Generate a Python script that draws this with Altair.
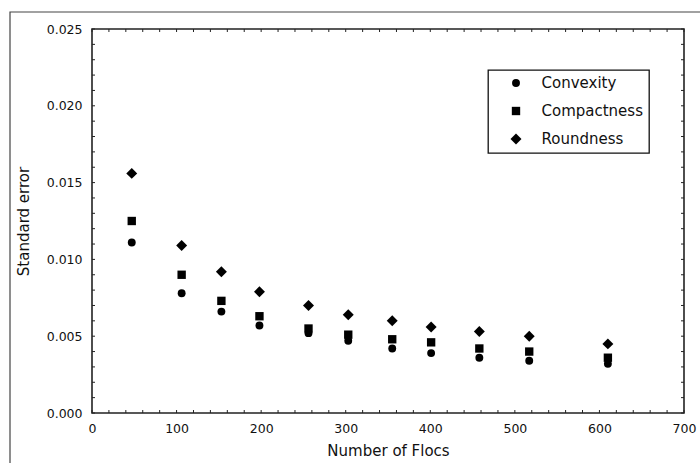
import altair as alt
import pandas as pd

# ---- data ----
flocs = [47, 106, 153, 198, 256, 303, 355, 401, 458, 517, 610]
convexity = [0.0111, 0.0078, 0.0066, 0.0057, 0.0052, 0.0047, 0.0042, 0.0039, 0.0036, 0.0034, 0.0032]
compactness = [0.0125, 0.0090, 0.0073, 0.0063, 0.0055, 0.0051, 0.0048, 0.0046, 0.0042, 0.0040, 0.0036]
roundness = [0.0156, 0.0109, 0.0092, 0.0079, 0.0070, 0.0064, 0.0060, 0.0056, 0.0053, 0.0050, 0.0045]

series_names = ["Convexity", "Compactness", "Roundness"]
series_shapes = ["circle", "square", "diamond"]
series_sizes = [62, 70, 120]

x_labels = [0, 100, 200, 300, 400, 500, 600, 700]
y_labels = [0.0, 0.005, 0.010, 0.015, 0.020, 0.025]
x_minor = list(range(0, 701, 20))
y_minor = [i / 1000 for i in range(26)]

rows = []
for name, vals in zip(series_names, [convexity, compactness, roundness]):
    for f, v in zip(flocs, vals):
        rows.append({"flocs": f, "se": v, "measure": name})
df = pd.DataFrame(rows)

W, H = 592, 384
FONT = "DejaVu Sans"
TXT = "#111111"
LINE = "#222222"

x_scale = alt.Scale(domain=[0, 700], nice=False, zero=False)
y_scale = alt.Scale(domain=[0, 0.025], nice=False, zero=False)

x_axis = alt.Axis(
    title="Number of Flocs", values=x_labels, format="d",
    domain=False, ticks=False, grid=False,
    labelFont=FONT, labelFontSize=12.5, labelColor=TXT, labelPadding=9,
    labelFlush=False, labelOverlap=False,
    titleFont=FONT, titleFontSize=15, titleFontWeight="normal", titleColor=TXT,
    titlePadding=9,
)
y_axis = alt.Axis(
    title="Standard error", values=y_labels, format=".3f",
    domain=False, ticks=False, grid=False,
    labelFont=FONT, labelFontSize=12.5, labelColor=TXT, labelPadding=10,
    labelFlush=False, labelOverlap=False,
    titleFont=FONT, titleFontSize=15, titleFontWeight="normal", titleColor=TXT,
    titlePadding=15,
)

legend = alt.Legend(
    title=None, orient="none", legendX=396, legendY=41,
    padding=5.5, strokeColor="#111111", fillColor="white",
    labelFont=FONT, labelFontSize=15, labelColor=TXT,
    symbolOffset=15, labelOffset=18, rowPadding=12,
    symbolFillColor="black", symbolStrokeWidth=0,
)

# outer figure frame
frame = alt.Chart(alt.Data(values=[{}])).mark_rect(
    fill=None, fillOpacity=0, stroke="#444444", strokeWidth=1.2
).encode(
    x=alt.value(-82), y=alt.value(-17), x2=alt.value(640), y2=alt.value(480)
)

xt = pd.DataFrame({"flocs": x_minor})
yt = pd.DataFrame({"se": y_minor})
TL = 3

tick_bottom = alt.Chart(xt).mark_rule(color=LINE, strokeWidth=1).encode(
    x=alt.X("flocs:Q", scale=x_scale, axis=x_axis), y=alt.value(H), y2=alt.value(H - TL)
)
tick_top = alt.Chart(xt).mark_rule(color=LINE, strokeWidth=1).encode(
    x=alt.X("flocs:Q", scale=x_scale, axis=x_axis), y=alt.value(0), y2=alt.value(TL)
)
tick_left = alt.Chart(yt).mark_rule(color=LINE, strokeWidth=1).encode(
    y=alt.Y("se:Q", scale=y_scale, axis=y_axis), x=alt.value(0), x2=alt.value(TL)
)
tick_right = alt.Chart(yt).mark_rule(color=LINE, strokeWidth=1).encode(
    y=alt.Y("se:Q", scale=y_scale, axis=y_axis), x=alt.value(W), x2=alt.value(W - TL)
)

points = alt.Chart(df).mark_point(filled=True, opacity=1, color="black", strokeWidth=0).encode(
    x=alt.X("flocs:Q", scale=x_scale, axis=x_axis),
    y=alt.Y("se:Q", scale=y_scale, axis=y_axis),
    shape=alt.Shape("measure:N", scale=alt.Scale(domain=series_names, range=series_shapes), legend=legend),
    size=alt.Size("measure:N", scale=alt.Scale(type="ordinal", domain=series_names, range=series_sizes), legend=legend),
)

chart = alt.layer(frame, tick_bottom, tick_top, tick_left, tick_right, points).properties(
    width=W, height=H,
    autosize=alt.AutoSizeParams(type="none"),
    padding={"left": 92, "top": 29, "right": 16, "bottom": 50},
    background="white",
).configure_view(stroke=LINE, strokeWidth=1.6).configure_legend(strokeWidth=1.3)

chart.save("out.html", embed_options={"renderer": "svg", "actions": False})
